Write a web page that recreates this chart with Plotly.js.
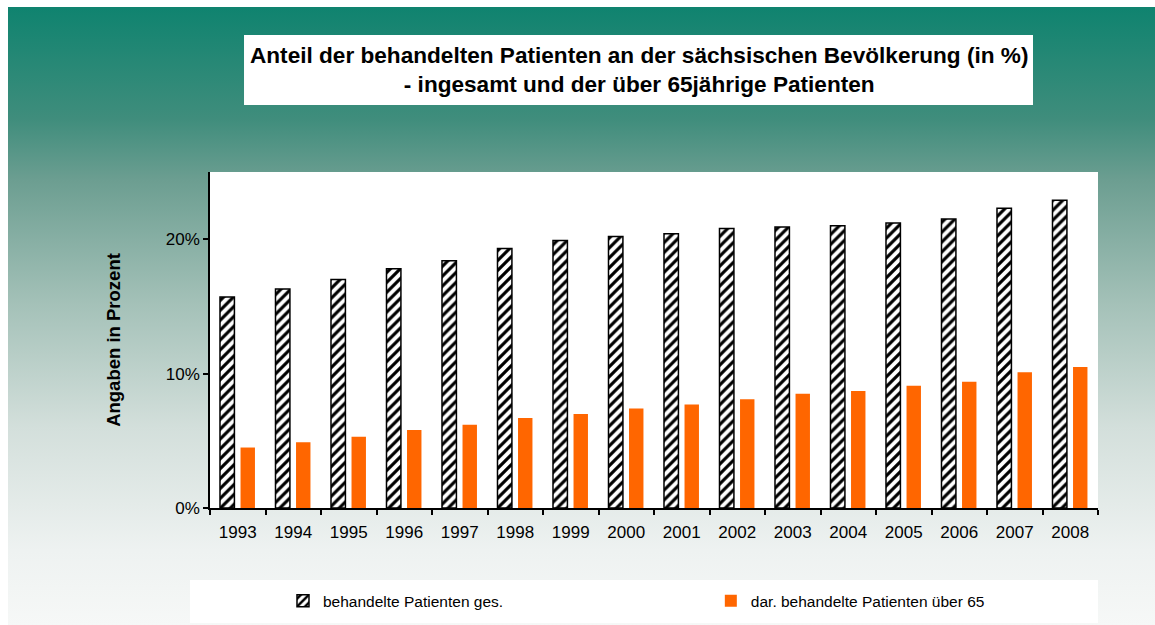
<!DOCTYPE html>
<html>
<head>
<meta charset="utf-8">
<script src="https://cdn.plot.ly/plotly-3.0.1.min.js"></script>
<style>
  body { margin: 0; background: #fff; }
  #bg {
    position: absolute; left: 8px; top: 7px; width: 1147px; height: 618px;
    background: linear-gradient(to bottom, #0f836f 0%, #3f8d7c 18%, #6c9e91 28%, #a4c1b8 48%, #d3dfdb 68%, #eef2f1 88%, #f6f8f7 100%);
  }
  #chart { position: absolute; left: 0; top: 0; width: 1155px; height: 625px; }
</style>
</head>
<body>
<div id="bg"></div>
<div id="chart"></div>
<script>
// Jahre
const years = ['1993','1994','1995','1996','1997','1998','1999','2000',
               '2001','2002','2003','2004','2005','2006','2007','2008'];

// behandelte Patienten gesamt (%)
const gesamt = [15.7, 16.3, 17.0, 17.8, 18.4, 19.3, 19.9, 20.2,
                20.4, 20.8, 20.9, 21.0, 21.2, 21.5, 22.3, 22.9];

// davon über 65 (%)
const ueber65 = [4.5, 4.9, 5.3, 5.8, 6.2, 6.7, 7.0, 7.4,
                 7.7, 8.1, 8.5, 8.7, 9.1, 9.4, 10.1, 10.5];

const yTicks = [0, 10, 20];

let data = [{
  x: years,
  y: gesamt,
  type: 'bar',
  name: 'behandelte Patienten ges.',
  legend: 'legend',
  width: 0.26,
  offset: -0.32,
  marker: {
    color: '#ffffff',
    line: {color: '#000000', width: 1.5},
    pattern: {shape: '/', fgcolor: '#000000', bgcolor: '#ffffff', size: 7, solidity: 0.45}
  }
}, {
  x: years,
  y: ueber65,
  type: 'bar',
  name: 'dar. behandelte Patienten über 65',
  legend: 'legend2',
  width: 0.26,
  offset: 0.05,
  marker: {color: '#ff6600', line: {width: 0}}
}];

let legendBase = {
  orientation: 'h',
  xanchor: 'left',
  y: -0.277, yanchor: 'middle',
  bgcolor: 'rgba(0,0,0,0)',
  font: {size: 15.5, color: '#000000'}
};

let layout = {
  width: 1155,
  height: 625,
  margin: {l: 210, r: 57, t: 172, b: 117, autoexpand: false},
  paper_bgcolor: 'rgba(0,0,0,0)',
  plot_bgcolor: '#ffffff',
  font: {family: 'Liberation Sans, Arial, sans-serif', color: '#000000'},
  showlegend: true,
  legend: Object.assign({}, legendBase, {x: 0.0822}),
  legend2: Object.assign({}, legendBase, {x: 0.564}),
  xaxis: {
    type: 'category',
    showline: true, linecolor: '#000000', linewidth: 1.5,
    ticks: 'outside', tickson: 'boundaries', ticklen: 5, tickcolor: '#000000', tickwidth: 1.5,
    ticklabelstandoff: 8,
    tickfont: {size: 17},
    showgrid: false
  },
  yaxis: {
    range: [0, 25],
    tickvals: yTicks,
    ticktext: yTicks.map(v => v + '%'),
    showline: true, linecolor: '#000000', linewidth: 1.5,
    ticks: 'outside', ticklen: 5, tickcolor: '#000000', tickwidth: 1.5,
    tickfont: {size: 17},
    showgrid: false, zeroline: false,
    title: {text: '<b>Angaben in Prozent</b>', font: {size: 18.5}, standoff: 40}
  },
  shapes: [
    {type: 'rect', xref: 'paper', yref: 'paper', x0: 0.0383, x1: 0.9268, y0: 1.1994, y1: 1.4077,
     fillcolor: '#ffffff', line: {width: 0}, layer: 'below'},
    {type: 'rect', xref: 'paper', yref: 'paper', x0: -0.0225, x1: 1.0, y0: -0.342, y1: -0.214,
     fillcolor: '#ffffff', line: {width: 0}, layer: 'below'}
  ],
  annotations: [{
    xref: 'paper', yref: 'paper', x: 0.4826, y: 1.3036,
    xanchor: 'center', yanchor: 'middle', showarrow: false,
    text: '<b>Anteil der behandelten Patienten an der sächsischen Bevölkerung (in %)<br>- ingesamt und der über 65jährige Patienten</b>',
    font: {size: 22.6, color: '#000000'}
  }]
};

Plotly.newPlot('chart', data, layout, {displayModeBar: false});
</script>
</body>
</html>
